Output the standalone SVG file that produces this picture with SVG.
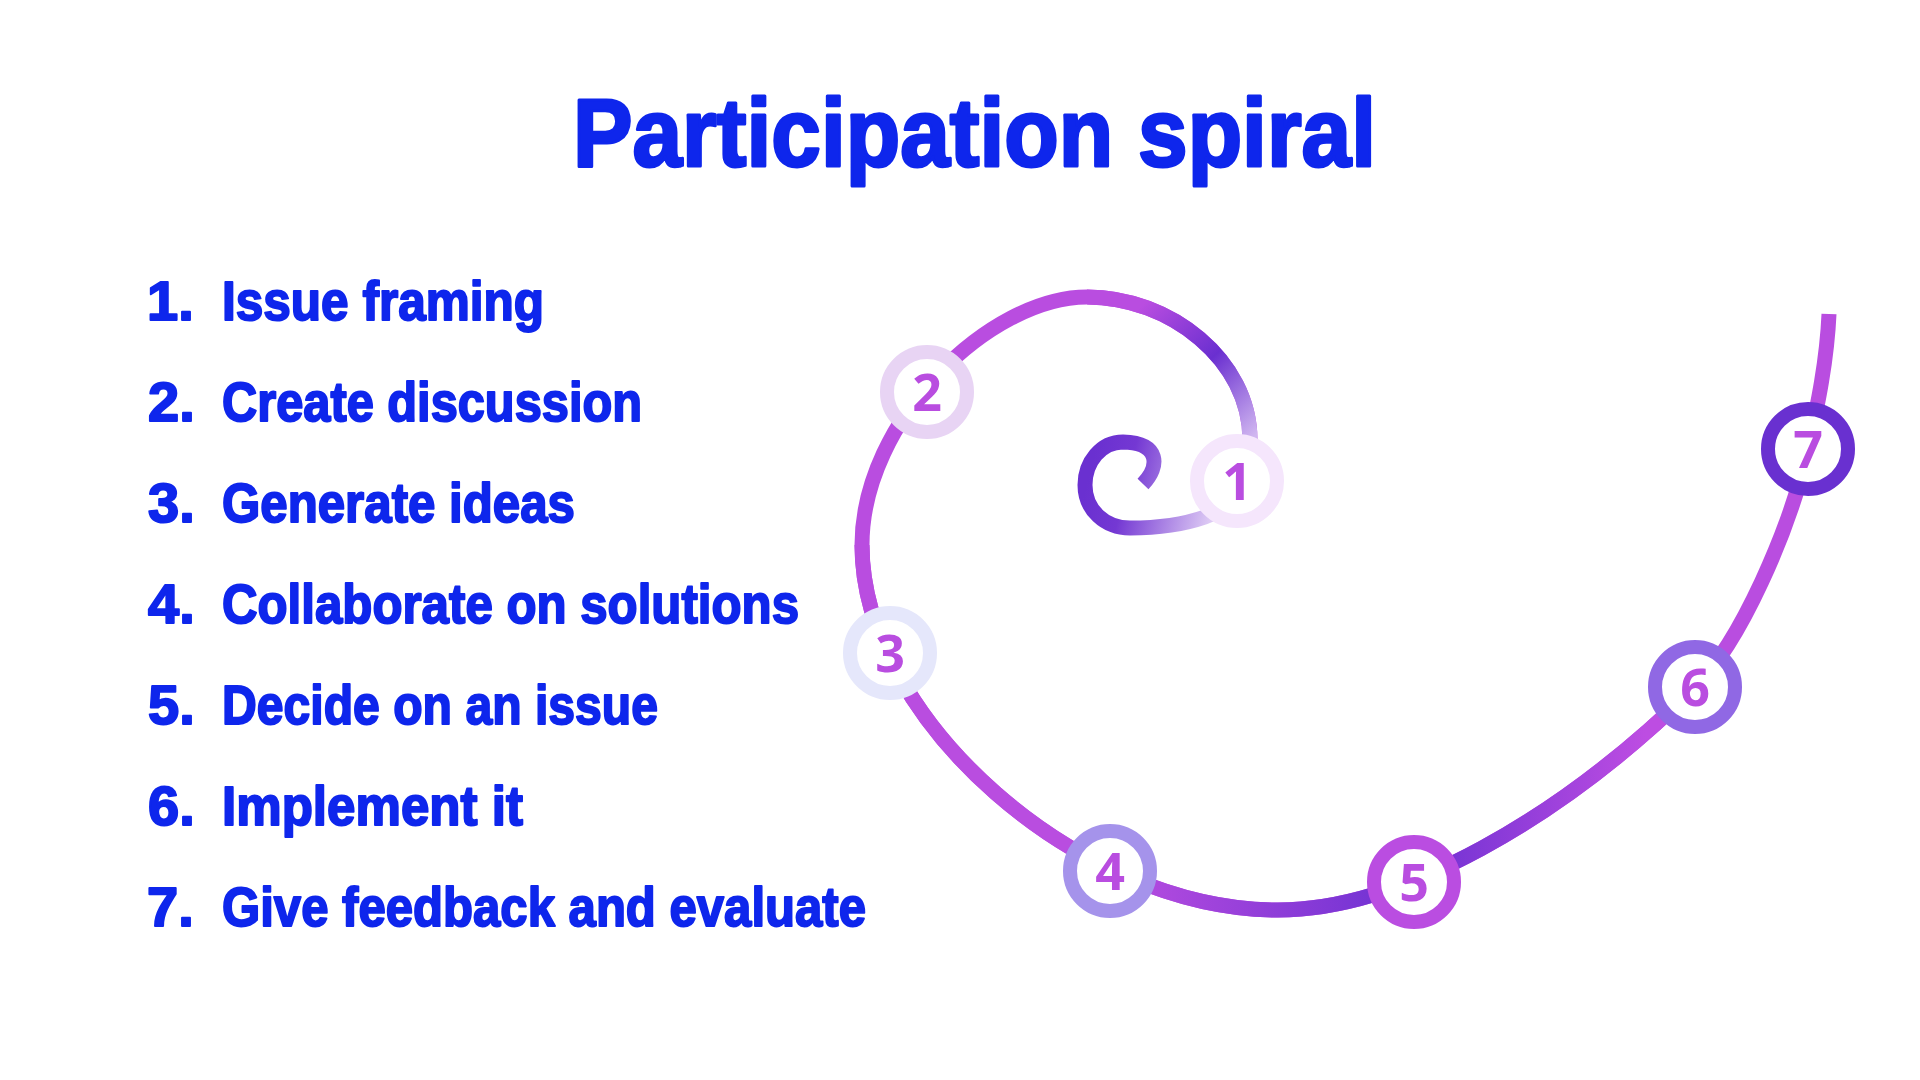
<svg xmlns="http://www.w3.org/2000/svg" width="1920" height="1080" viewBox="0 0 1920 1080">
  <style>
    .title { font-family: "Liberation Sans", Arial, sans-serif; font-weight: 700; font-size: 96px; fill: #0E26EC; stroke: #0E26EC; stroke-width: 3px; stroke-linejoin: round; }
    .item { font-family: "Liberation Sans", Arial, sans-serif; font-weight: 700; font-size: 56px; fill: #0E26EC; stroke: #0E26EC; stroke-width: 2px; stroke-linejoin: round; }
    .ring { fill: #FFFFFF; stroke-width: 14; }
    .digit { font-family: "Open Sans", "Noto Sans", sans-serif; font-weight: 700; font-size: 52px; fill: #B94DE0; text-anchor: middle; }
    .line { fill: none; stroke-width: 15; stroke-linecap: butt; }
  </style>
  <defs>
    <linearGradient id="gCurl" gradientUnits="userSpaceOnUse" x1="1090" y1="470" x2="1215" y2="500">
      <stop offset="0" stop-color="#6A30D0"/>
      <stop offset="0.3" stop-color="#7438D3"/>
      <stop offset="1" stop-color="#DDCAF4"/>
    </linearGradient>
    <linearGradient id="gArc1" gradientUnits="userSpaceOnUse" x1="1250" y1="440" x2="1120" y2="300">
      <stop offset="0" stop-color="#D0B6F0"/>
      <stop offset="0.45" stop-color="#6A2FD0"/>
      <stop offset="0.9" stop-color="#B94DE0"/>
      <stop offset="1" stop-color="#B94DE0"/>
    </linearGradient>
    <linearGradient id="gBottom" gradientUnits="userSpaceOnUse" x1="862" y1="0" x2="1695" y2="0">
      <stop offset="0" stop-color="#B94DE0"/>
      <stop offset="0.3" stop-color="#B94DE0"/>
      <stop offset="0.66" stop-color="#6C30D2"/>
      <stop offset="0.94" stop-color="#BD4DE2"/>
      <stop offset="1" stop-color="#BD4DE2"/>
    </linearGradient>
  </defs>
  <rect width="1920" height="1080" fill="#FFFFFF"/>

  <g id="title">
    <text class="title" x="573" y="166" textLength="803" lengthAdjust="spacingAndGlyphs">Participation spiral</text>
  </g>

  <g id="list">
    <g id="item-1"><text class="item" x="147" y="320">1.</text><text class="item" x="222" y="320" textLength="322" lengthAdjust="spacingAndGlyphs">Issue framing</text></g>
    <g id="item-2"><text class="item" x="148" y="421">2.</text><text class="item" x="222" y="421" textLength="420" lengthAdjust="spacingAndGlyphs">Create discussion</text></g>
    <g id="item-3"><text class="item" x="148" y="522">3.</text><text class="item" x="222" y="522" textLength="353" lengthAdjust="spacingAndGlyphs">Generate ideas</text></g>
    <g id="item-4"><text class="item" x="148" y="623">4.</text><text class="item" x="222" y="623" textLength="577" lengthAdjust="spacingAndGlyphs">Collaborate on solutions</text></g>
    <g id="item-5"><text class="item" x="148" y="724">5.</text><text class="item" x="222" y="724" textLength="436" lengthAdjust="spacingAndGlyphs">Decide on an issue</text></g>
    <g id="item-6"><text class="item" x="148" y="825">6.</text><text class="item" x="222" y="825" textLength="301" lengthAdjust="spacingAndGlyphs">Implement it</text></g>
    <g id="item-7"><text class="item" x="147" y="926">7.</text><text class="item" x="222" y="926" textLength="644" lengthAdjust="spacingAndGlyphs">Give feedback and evaluate</text></g>
  </g>

  <g id="connectors">
    <path class="line" stroke="url(#gCurl)" d="M 1143 484 C 1160 466, 1160 443, 1123 442 C 1101 442, 1085 462, 1085 485 C 1085 510, 1105 528, 1130 528 C 1160 528, 1185 524, 1205 517 C 1222 511, 1233 497, 1237 481"/>
    <path class="line" stroke="#B94DE0" d="M 1237 481 C 1245 470, 1250 455, 1250 440 C 1250 360, 1170 297, 1087 297 C 990 297, 862 420, 862 545 C 862 720, 1080 910, 1278 910 C 1400 910, 1560 820, 1695 687 C 1740 643, 1790 530, 1808 449 C 1818 404, 1827 360, 1829 314"/>
    <path class="line" stroke="url(#gArc1)" d="M 1237 481 C 1245 470, 1250 455, 1250 440 C 1250 360, 1170 297, 1087 297"/>
    <path class="line" stroke="url(#gBottom)" d="M 862 545 C 862 720, 1080 910, 1278 910 C 1400 910, 1560 820, 1695 687"/>
  </g>

  <g id="node-1"><circle class="ring" cx="1237" cy="481" r="40" stroke="#F5E6FC"/><text class="digit" x="1237" y="500">1</text></g>
  <g id="node-2"><circle class="ring" cx="927" cy="392" r="40" stroke="#E8D4F4"/><text class="digit" x="927" y="411">2</text></g>
  <g id="node-3"><circle class="ring" cx="890" cy="653" r="40" stroke="#E5E7FB"/><text class="digit" x="890" y="672">3</text></g>
  <g id="node-4"><circle class="ring" cx="1110" cy="871" r="40" stroke="#A593EB"/><text class="digit" x="1110" y="890">4</text></g>
  <g id="node-5"><circle class="ring" cx="1414" cy="882" r="40" stroke="#BA4DE1"/><text class="digit" x="1414" y="901">5</text></g>
  <g id="node-6"><circle class="ring" cx="1695" cy="687" r="40" stroke="#9068E4"/><text class="digit" x="1695" y="706">6</text></g>
  <g id="node-7"><circle class="ring" cx="1808" cy="449" r="40" stroke="#6930D0"/><text class="digit" x="1808" y="468">7</text></g>
</svg>
